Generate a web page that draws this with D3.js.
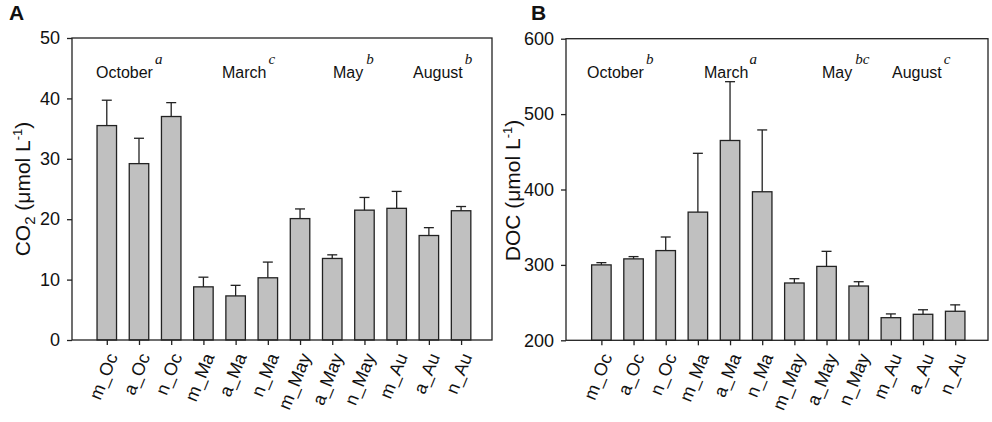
<!DOCTYPE html>
<html><head><meta charset="utf-8">
<script src="https://cdn.jsdelivr.net/npm/d3@7/dist/d3.min.js"></script>
<style>body{margin:0;background:#fff}svg{display:block;font-family:Arial,"Liberation Sans",sans-serif}</style>
</head><body>
<svg id="c" width="992" height="422"></svg>
<script>
const categories = ["m_Oc","a_Oc","n_Oc","m_Ma","a_Ma","n_Ma","m_May","a_May","n_May","m_Au","a_Au","n_Au"];
const co2Mean = [35.5,29.2,37.0,8.8,7.3,10.3,20.1,13.5,21.5,21.8,17.3,21.4];
const co2Err  = [4.2,4.2,2.3,1.6,1.75,2.6,1.6,0.6,2.1,2.8,1.3,0.7];
const docMean = [300,308,319,370,465,397,276,298,272,230,234.5,238.5];
const docErr  = [3,3,18,78,78,82,5.7,20,5.7,5,6,8.5];
const co2Ticks = [0,10,20,30,40,50];
const docTicks = [200,300,400,500,600];
const monthsA = [["October","a"],["March","c"],["May","b"],["August","b"]];
const monthsB = [["October","b"],["March","a"],["May","bc"],["August","c"]];

const svg = d3.select("#c");
const ink = "#222";

function panel(o){
  const g = svg.append("g");
  const x = d3.scaleLinear().domain(o.xdom).range([o.left,o.right]);
  const y = d3.scaleLinear().domain(o.ydom).range([o.bottom,o.top]);
  const bw = 19.5;
  g.selectAll("rect.bar").data(o.mean).join("rect")
    .attr("x",(d,i)=>x(i)-bw/2).attr("width",bw)
    .attr("y",d=>y(d)).attr("height",d=>y(o.ydom[0])-y(d))
    .attr("fill","#c0c0c0").attr("stroke",ink).attr("stroke-width",1.3);
  g.selectAll("line.err").data(o.mean).join("line")
    .attr("x1",(d,i)=>x(i)).attr("x2",(d,i)=>x(i))
    .attr("y1",d=>y(d)).attr("y2",(d,i)=>y(d+o.err[i]))
    .attr("stroke",ink).attr("stroke-width",1.3);
  g.selectAll("line.cap").data(o.mean).join("line")
    .attr("x1",(d,i)=>x(i)-5).attr("x2",(d,i)=>x(i)+5)
    .attr("y1",(d,i)=>y(d+o.err[i])).attr("y2",(d,i)=>y(d+o.err[i]))
    .attr("stroke",ink).attr("stroke-width",1.3);
  g.append("rect").attr("x",o.left).attr("y",o.top).attr("width",o.right-o.left).attr("height",o.bottom-o.top)
    .attr("fill","none").attr("stroke",ink).attr("stroke-width",1.3);
  const ya = g.append("g").attr("transform",`translate(${o.left},0)`)
    .call(d3.axisLeft(y).tickValues(o.ticks).tickSize(5).tickPadding(7).tickFormat(d3.format("d")));
  ya.select(".domain").remove();
  ya.selectAll("line").attr("stroke",ink).attr("stroke-width",1.3);
  ya.selectAll("text").attr("font-size",18).attr("fill","#111").attr("font-family","Arial, 'Liberation Sans', sans-serif");
  const xa = g.append("g").attr("transform",`translate(0,${o.bottom})`)
    .call(d3.axisBottom(x).tickValues(d3.range(categories.length)).tickSize(5).tickFormat(i=>categories[i]));
  xa.select(".domain").remove();
  xa.selectAll("line").attr("stroke",ink).attr("stroke-width",1.3);
  xa.selectAll("text").attr("font-size",18).attr("fill","#111")
    .attr("font-family","Arial, 'Liberation Sans', sans-serif")
    .attr("text-anchor","end").attr("dy","0.35em")
    .attr("transform","translate(5,14) rotate(-68)").attr("y",0).attr("x",0);
  o.months.forEach((m,k)=>{
    const t = g.append("text").attr("x",o.mx[k]).attr("y",78).attr("font-size",16).attr("fill","#111");
    t.append("tspan").text(m[0]);
    t.append("tspan").attr("dx",o.sdx[k]).attr("dy",-14).attr("font-size",15)
      .attr("font-family","'Liberation Serif','Times New Roman',serif").attr("font-style","italic").text(m[1]);
  });
  const tt = g.append("text").attr("transform",`translate(${o.tx},${o.ty}) rotate(-90)`)
    .attr("text-anchor","middle").attr("font-size",21).attr("fill","#111");
  o.title(tt);
  g.append("text").attr("x",o.lx).attr("y",20).attr("font-size",21).attr("font-weight","bold").attr("fill","#111").text(o.letter);
}

panel({left:72,right:492,top:38,bottom:340,xdom:[-1.08,11.96],ydom:[0,50],ticks:co2Ticks,
  mean:co2Mean,err:co2Err,months:monthsA,mx:[96,222,333,413],sdx:[2,2,3,2],
  tx:29.5,ty:189,lx:9,letter:"A",
  title:t=>{t.append("tspan").text("CO");t.append("tspan").attr("font-size",15).attr("dy",5).text("2");
    t.append("tspan").attr("dy",-5).text(" (μmol L");t.append("tspan").attr("font-size",13).attr("dy",-8).text("-1");
    t.append("tspan").attr("dy",8).text(")");}});

panel({left:566,right:988,top:38.7,bottom:340.3,xdom:[-1.1,12.02],ydom:[200,600],ticks:docTicks,
  mean:docMean,err:docErr,months:monthsB,mx:[587,704,822,892],sdx:[2,1,3,2],
  tx:519.5,ty:190.5,lx:531,letter:"B",
  title:t=>{t.append("tspan").text("DOC (μmol L");t.append("tspan").attr("font-size",13).attr("dy",-8).text("-1");
    t.append("tspan").attr("dy",8).text(")");}});
</script>
</body></html>
